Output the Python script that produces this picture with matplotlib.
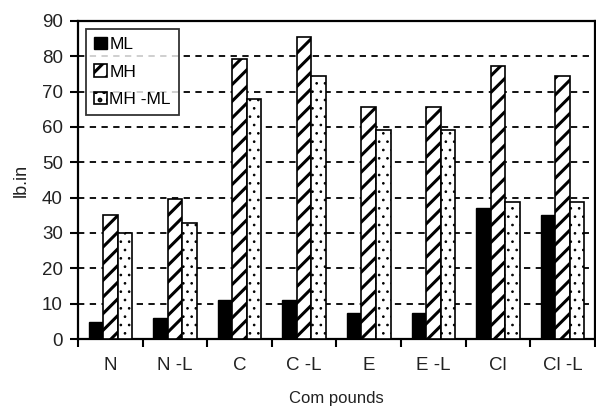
import numpy as np
import matplotlib
matplotlib.use('Agg')
import matplotlib.pyplot as plt

plt.rcParams['font.family'] = ['Liberation Sans', 'DejaVu Sans']
plt.rcParams['hatch.linewidth'] = 2.2

compounds = ['N', 'N -L', 'C', 'C -L', 'E', 'E -L', 'Cl', 'Cl -L']
ml = [4.8, 5.9, 11.0, 11.0, 7.3, 7.3, 37.0, 35.1]
mh = [35.1, 39.7, 79.1, 85.3, 65.7, 65.7, 77.3, 74.4]
mh_ml = [29.9, 32.7, 67.8, 74.3, 59.2, 59.2, 38.8, 38.8]

fig = plt.figure(figsize=(5.96, 4.09), dpi=100)
ax = fig.add_axes([0.131, 0.171, 0.867, 0.778])

x = np.arange(len(compounds))
w = 0.225
ax.bar(x - w, ml, w, color='black', edgecolor='black', linewidth=1, label='ML', zorder=3)
ax.bar(x, mh, w, color='white', edgecolor='black', linewidth=1.2, hatch='//', label='MH', zorder=3)
b_d = ax.bar(x + w, mh_ml, w, color='white', edgecolor='black', linewidth=1.2, hatch='..', label='MH -ML', zorder=3)
for p in b_d:
    if hasattr(p, 'set_hatch_linewidth'):
        p.set_hatch_linewidth(0.7)

ax.set_xlim(-0.5, len(compounds) - 0.5)
ax.set_ylim(0, 90)
ax.set_yticks(range(0, 91, 10))
ax.yaxis.grid(True, linestyle=(0, (3.5, 3)), color='black', linewidth=1.3, zorder=0)
ax.set_axisbelow(True)

ax.set_xticks(x)
ax.set_xticklabels(compounds, fontsize=13.5, color='#222222')
ax.set_xticks(np.arange(-0.5, len(compounds), 1), minor=True)
ax.tick_params(axis='x', which='major', length=0, pad=13)
ax.tick_params(axis='x', which='minor', length=6, width=1.5, direction='out')
ax.tick_params(axis='y', length=6, width=1.5, direction='out', labelsize=13.5,
               labelcolor='#222222', pad=5)

for s in ax.spines.values():
    s.set_linewidth(1.6)

ax.set_ylabel('lb.in', fontsize=13, color='#222222', labelpad=9)
ax.set_xlabel('Com pounds', fontsize=12, color='#222222', labelpad=12)

leg = ax.legend(loc='upper left', bbox_to_anchor=(0.015, 0.975), frameon=True, fancybox=False,
                edgecolor='black', fontsize=12.5, handlelength=0.75, handleheight=0.75,
                handletextpad=0.15, borderpad=0.45, labelspacing=0.7, borderaxespad=0)
leg.get_frame().set_linewidth(1.3)

fig.savefig('out.png', dpi=100)
